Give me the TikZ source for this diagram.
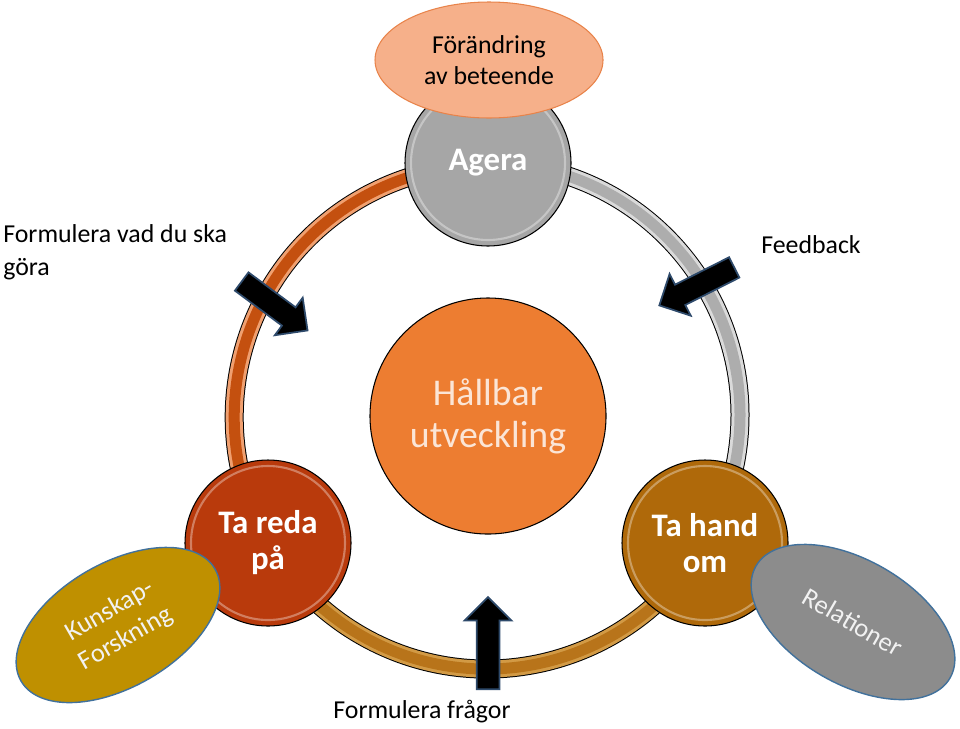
\documentclass[tikz,border=0pt]{standalone}
\usepackage{fontspec}
\setmainfont{Carlito}
\usepackage{tikz}
\usetikzlibrary{arrows.meta,positioning,shapes.geometric,shapes.arrows,backgrounds}
\definecolor{HubOrange}{HTML}{ED7D31}
\definecolor{HubText}{HTML}{FBE5D6}
\definecolor{AgeraGray}{HTML}{A6A6A6}
\definecolor{RedaRed}{HTML}{B93A0C}
\definecolor{HandBrown}{HTML}{AF690A}
\definecolor{PeachFill}{HTML}{F6B08A}
\definecolor{PeachEdge}{HTML}{E8834A}
\definecolor{GoldFill}{HTML}{BF9000}
\definecolor{StoneFill}{HTML}{8C8C8C}
\definecolor{EdgeBlue}{HTML}{41719C}
\definecolor{ArrowBlue}{HTML}{2E4A6B}
\definecolor{RingRed}{HTML}{C4500F}
\definecolor{RingRedHi}{HTML}{F0A070}
\definecolor{RingGray}{HTML}{ADADAD}
\definecolor{RingGrayHi}{HTML}{DADADA}
\definecolor{RingBrown}{HTML}{B8741A}
\definecolor{RingBrownHi}{HTML}{D29A45}

\begin{document}
\begin{tikzpicture}[x=0.2mm, y=-0.2mm, every node/.style={font=\fontsize{14.7}{17.5}\selectfont, align=center}]
\tikzset{ball/.style={circle, draw=black, line width=0.6pt, minimum size=3.32cm, inner sep=0pt, text=white, font=\bfseries\fontsize{18.7}{20.5}\selectfont, path picture={\draw[white, opacity=0.35, line width=1.2pt] (path picture bounding box.center) circle[radius=77];}}}
\tikzset{bubble/.style={ellipse, draw=EdgeBlue, line width=0.8pt, minimum width=4.48cm, minimum height=2.48cm, inner sep=0pt, text=white!95!black, font=\fontsize{15}{18}\selectfont}}
\tikzset{ring/.style 2 args={draw=black, line width=3.8mm, postaction={draw=#1, line width=3.4mm}, postaction={draw=#2, line width=2.2mm}}}
\tikzset{pointer/.style={single arrow, draw=ArrowBlue, line width=1pt, fill=black, anchor=tail, inner xsep=0pt, inner ysep=2.1mm, single arrow head extend=2.4mm, single arrow head indent=0pt}}
\useasboundingbox (0,0) rectangle (960,728);
\node[circle, draw=black, line width=0.6pt, fill=HubOrange, minimum size=4.72cm, text=HubText, font=\fontsize{21.5}{24}\selectfont] (hub) at (488,416) {Hållbar\\utveckling};
\node[ball, fill=AgeraGray] (agera) at (488,163) {Agera};
\node[ball, fill=RedaRed] (reda) at (268,543) {Ta reda\\på};
\node[ball, fill=HandBrown] (hand) at (705,543) {Ta hand\\om};
\begin{scope}[on background layer]
\draw[ring={RingRedHi}{RingRed}] (reda.center) arc[start angle=150, end angle=270, radius=252];
\draw[ring={RingGrayHi}{RingGray}] (agera.center) arc[start angle=270, end angle=390, radius=252];
\draw[ring={RingBrownHi}{RingBrown}] (hand.center) arc[start angle=30, end angle=150, radius=252];
\end{scope}
\node[ellipse, draw=PeachEdge, line width=0.6pt, fill=PeachFill, minimum width=4.56cm, minimum height=2.32cm, inner sep=0pt] (change) at (489,60) {Förändring\\av beteende};
\node[bubble, fill=GoldFill, rotate=30] (know) at (118,625) {Kunskap-\\Forskning};
\node[bubble, fill=StoneFill, rotate=-30] (rel) at (853,622) {Relationer};
\node[pointer, minimum height=1.64cm, rotate=-36.6] (doArrow) at (241,281) {};
\node[pointer, minimum height=1.68cm, rotate=-153.1] (feedArrow) at (735,267) {};
\node[pointer, minimum height=1.84cm, rotate=90] (askArrow) at (488,690) {};
\node[anchor=west, align=left, inner sep=0pt, font=\fontsize{14.7}{18.5}\selectfont] (plan) at (3,252) {Formulera vad du ska\\göra};
\node[inner sep=0pt] (feed) at (811,245) {Feedback};
\node[inner sep=0pt] (ask) at (422,712) {Formulera frågor};
\end{tikzpicture}
\end{document}
